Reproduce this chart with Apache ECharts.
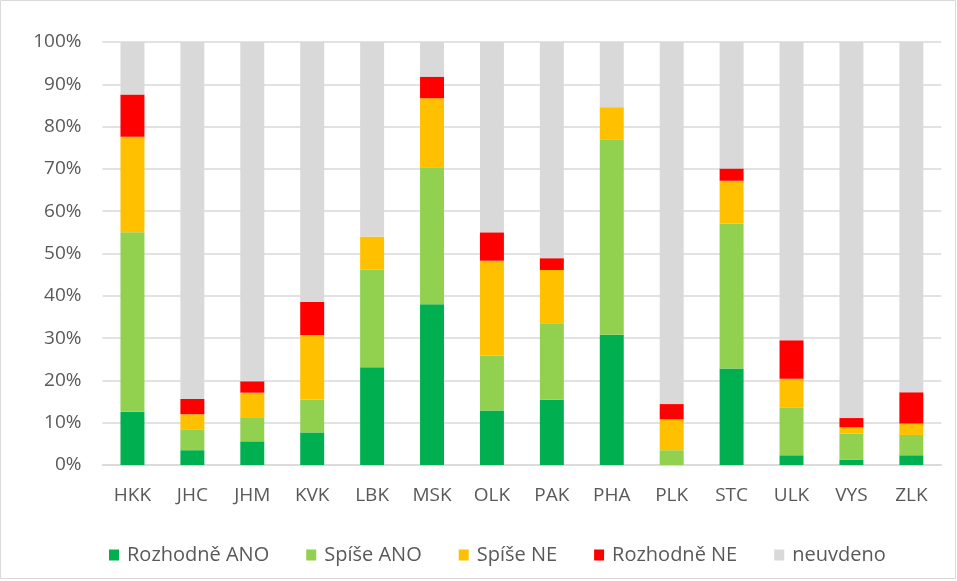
<!DOCTYPE html>
<html>
<head>
<meta charset="utf-8">
<title>Kraje</title>
<script src="https://cdn.jsdelivr.net/npm/echarts@6/dist/echarts.min.js"></script>
<style>
    html, body {margin: 0; padding: 0; background: #fff;}
    #chart {width: 957px; height: 581px;}
</style>
</head>
<body>
<div id="chart"></div>
<script>
//kategorie (kraje)
var kraje = ['HKK', 'JHC', 'JHM', 'KVK', 'LBK', 'MSK', 'OLK', 'PAK', 'PHA', 'PLK', 'STC', 'ULK', 'VYS', 'ZLK'];

//hodnoty v %
var rozhodne_ano = [12.6, 3.5, 5.6, 7.7, 23.1, 38.0, 12.9, 15.4, 30.8, 0.0, 22.8, 2.3, 1.3, 2.3];
var spise_ano    = [42.4, 4.8, 5.7, 7.7, 23.1, 32.4, 13.0, 18.1, 46.2, 3.5, 34.3, 11.2, 6.1, 4.8];
var spise_ne     = [22.6, 3.7, 5.8, 15.3, 7.8, 16.3, 22.4, 12.6, 7.6, 7.3, 10.1, 6.9, 1.5, 2.7];
var rozhodne_ne  = [10.0, 3.6, 2.7, 7.9, 0.0, 5.1, 6.7, 2.8, 0.0, 3.6, 2.9, 9.1, 2.2, 7.4];
var neuvdeno     = [12.4, 84.4, 80.2, 61.4, 46.0, 8.2, 45.0, 51.1, 15.4, 85.6, 29.9, 70.5, 88.9, 82.8];

var nazvy = ['Rozhodně ANO', 'Spíše ANO', 'Spíše NE', 'Rozhodně NE', 'neuvdeno'];
var barvy = ['#00b050', '#92d050', '#ffc000', '#ff0000', '#d9d9d9'];

var font = '"Open Sans", "DejaVu Sans", sans-serif';
var text_color = '#595959';

//sestavení řad
var series_data = [rozhodne_ano, spise_ano, spise_ne, rozhodne_ne, neuvdeno].map(function (d, i) {
    return {
        name: nazvy[i],
        type: 'bar',
        stack: 'celkem',
        barWidth: '40%',
        itemStyle: {color: barvy[i]},
        data: d
    };
});

var chart = echarts.init(document.getElementById('chart'));
var option = {
    animation: false,
    color: barvy,
    grid: {
        left: 102.5,
        right: 15.7,
        top: 42,
        bottom: 116
    },
    legend: {
        data: nazvy,
        left: 104,
        top: 540,
        itemWidth: 10,
        itemHeight: 11,
        itemGap: 37,
        icon: 'rect',
        textStyle: {
            fontFamily: font,
            fontSize: 20,
            color: text_color,
            padding: [0, 0, 0, 3]
        }
    },
    xAxis: {
        type: 'category',
        data: kraje,
        axisTick: {show: false},
        axisLine: {lineStyle: {color: '#d9d9d9', width: 1.5}},
        axisLabel: {
            margin: 21,
            fontFamily: font,
            fontSize: 19,
            color: text_color
        }
    },
    yAxis: {
        type: 'value',
        min: 0,
        max: 100,
        interval: 10,
        axisLine: {show: false},
        axisTick: {show: false},
        splitLine: {lineStyle: {color: '#d9d9d9', width: 1.5}},
        axisLabel: {
            formatter: '{value}%',
            margin: 21,
            fontFamily: font,
            fontSize: 19,
            color: text_color
        }
    },
    graphic: [{
        type: 'rect',
        shape: {x: 0.5, y: 0.5, width: 955, height: 578},
        style: {fill: 'none', stroke: '#d9d9d9', lineWidth: 1},
        silent: true
    }],
    series: series_data
};
chart.setOption(option, true);
</script>
</body>
</html>
